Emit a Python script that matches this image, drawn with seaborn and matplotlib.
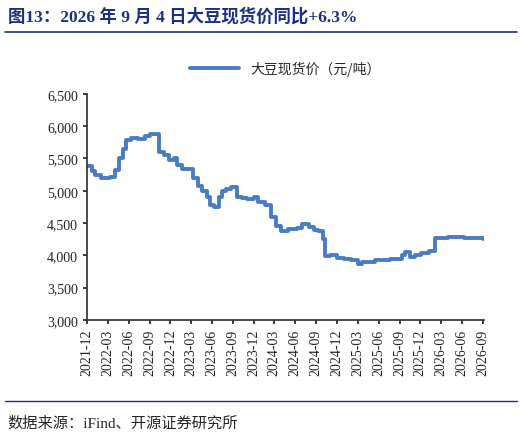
import matplotlib
matplotlib.use("Agg")
import matplotlib.pyplot as plt
import seaborn as sns
import pandas as pd

dates = ["2021-12-01","2021-12-20","2022-01-05","2022-02-01","2022-03-10","2022-04-01","2022-04-20","2022-05-05","2022-05-20","2022-06-10","2022-07-10","2022-08-10","2022-09-01","2022-10-01","2022-10-10","2022-11-01","2022-11-25","2022-12-15","2023-01-01","2023-01-20","2023-02-15","2023-03-10","2023-04-01","2023-04-20","2023-05-10","2023-05-25","2023-06-10","2023-07-01","2023-07-15","2023-08-01","2023-08-25","2023-09-20","2023-10-10","2023-11-01","2023-12-01","2023-12-20","2024-01-20","2024-02-15","2024-03-10","2024-04-01","2024-05-01","2024-06-10","2024-07-01","2024-08-01","2024-08-20","2024-09-10","2024-10-01","2024-10-10","2024-11-01","2024-12-01","2025-01-01","2025-02-01","2025-03-01","2025-03-20","2025-04-20","2025-05-15","2025-06-20","2025-07-20","2025-08-25","2025-09-10","2025-09-25","2025-10-15","2025-11-10","2025-12-05","2026-01-10","2026-02-05","2026-03-01","2026-04-01","2026-05-01","2026-06-10","2026-07-15","2026-08-20","2026-09-01"]
prices = [5380,5300,5250,5200,5220,5320,5500,5650,5780,5810,5800,5850,5880,5880,5600,5550,5480,5500,5400,5340,5330,5200,5080,5000,4900,4780,4750,4900,5000,5030,5050,4900,4880,4870,4900,4830,4780,4600,4450,4380,4400,4420,4480,4440,4390,4380,4250,3990,4000,3960,3950,3920,3870,3890,3900,3930,3920,3950,3950,4000,4050,3980,4000,4040,4070,4270,4270,4290,4290,4270,4270,4270,4250]
tick_labels = ["2021-12","2022-03","2022-06","2022-09","2022-12","2023-03","2023-06","2023-09","2023-12","2024-03","2024-06","2024-09","2024-12","2025-03","2025-06","2025-09","2025-12","2026-03","2026-06","2026-09"]

sns.set_theme(style="white")
plt.rcParams['font.family'] = ['Liberation Serif', 'Noto Sans CJK SC']
df = pd.DataFrame({"date": pd.to_datetime(dates), "price": prices})

fig = plt.figure(figsize=(5.22, 4.39), dpi=100)
ax = fig.add_axes([0.167, 0.269, 0.76, 0.515])
sns.lineplot(data=df, x="date", y="price", ax=ax, color="#4a7cc3", linewidth=2.8,
             drawstyle="steps-post", label="大豆现货价（元/吨）")
ax.set_ylim(3000, 6500)
ax.set_yticks(range(3000, 6501, 500))
ax.set_yticklabels([f"{v:,}" for v in range(3000, 6501, 500)], fontsize=10)
tk = pd.to_datetime([t + "-01" for t in tick_labels])
ax.set_xticks(tk)
ax.set_xticklabels(tick_labels, rotation=90, fontsize=10)
ax.set_xlim(tk[0], tk[-1] + pd.Timedelta(days=5))
ax.set_xlabel(""); ax.set_ylabel("")
for s in ["top", "right"]:
    ax.spines[s].set_visible(False)
for s in ["left", "bottom"]:
    ax.spines[s].set_color("#333333")
ax.tick_params(axis="both", length=3, direction="out", colors="#222222", left=True, bottom=True)
ax.legend(loc="upper center", bbox_to_anchor=(0.5, 1.2), frameon=False,
          handlelength=3.5, prop={'family': ['Noto Sans CJK SC'], 'size': 10})

fig.text(0.015, 0.962, "图13：2026 年 9 月 4 日大豆现货价同比+6.3%", fontsize=12.5, fontweight="bold",
         color="#1c2f85", va="center")
fig.add_artist(plt.Line2D([0.01, 0.99], [0.925, 0.925], color="#1c2f85", linewidth=1.2))
fig.add_artist(plt.Line2D([0.01, 0.99], [0.085, 0.085], color="#1c2f85", linewidth=1.0))
fig.text(0.015, 0.035, "数据来源：iFind、开源证券研究所", fontsize=11, va="center")
fig.savefig("out.png", dpi=100)
